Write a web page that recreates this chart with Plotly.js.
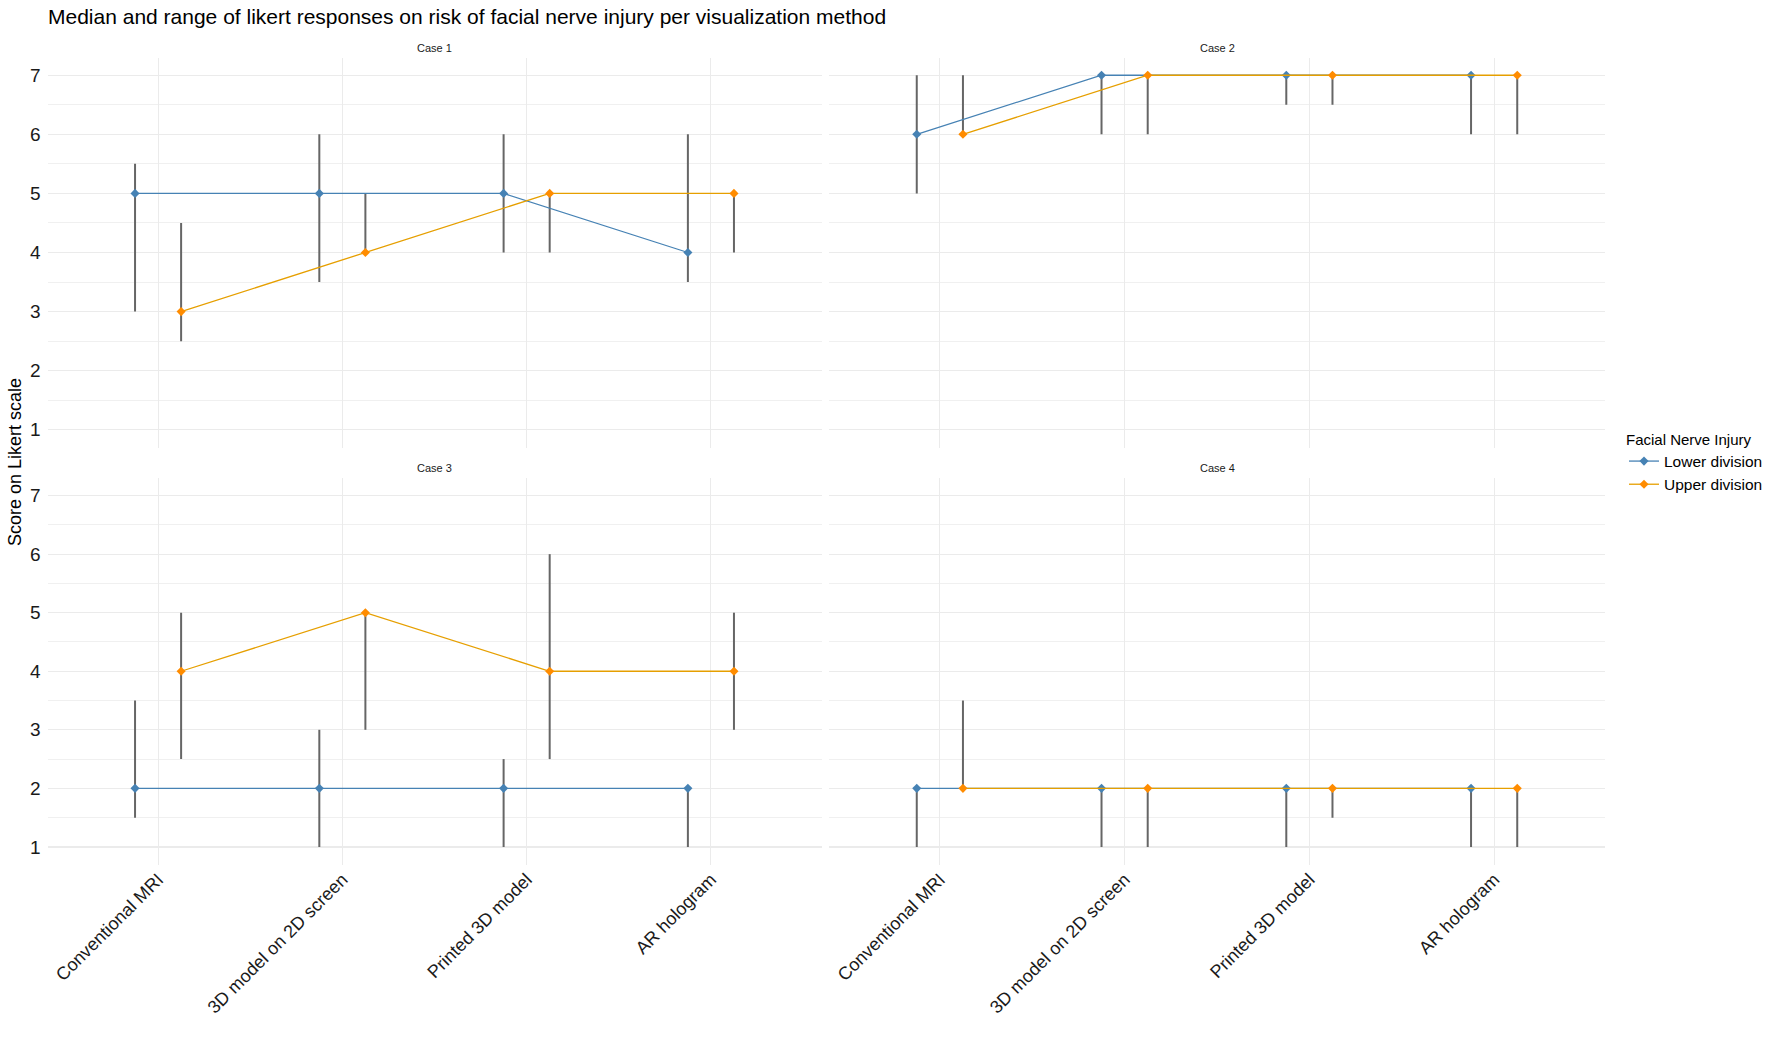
<!DOCTYPE html>
<html>
<head>
<meta charset="utf-8">
<script src="https://cdn.plot.ly/plotly-3.0.1.min.js"></script>
<style>
  html, body { margin: 0; padding: 0; background: #ffffff; }
  #chart { width: 1772px; height: 1057px; }
</style>
</head>
<body>
<div id="chart"></div>
<script>
// ---- data ----
const categories = ["Conventional MRI", "3D model on 2D screen", "Printed 3D model", "AR hologram"];
const caseNames = ["Case 1", "Case 2", "Case 3", "Case 4"];
const seriesNames = ["Lower division", "Upper division"];

// one row per case, one value per visualization method
const lowerMedian = [[5, 5, 5, 4], [6, 7, 7, 7], [2, 2, 2, 2], [2, 2, 2, 2]];
const lowerMin    = [[3, 3.5, 4, 3.5], [5, 6, 6.5, 6], [1.5, 1, 1, 1], [1, 1, 1, 1]];
const lowerMax    = [[5.5, 6, 6, 6], [7, 7, 7, 7], [3.5, 3, 2.5, 2], [2, 2, 2, 2]];

const upperMedian = [[3, 4, 5, 5], [6, 7, 7, 7], [4, 5, 4, 4], [2, 2, 2, 2]];
const upperMin    = [[2.5, 4, 4, 4], [6, 6, 6.5, 6], [2.5, 3, 2.5, 3], [2, 1, 1.5, 1]];
const upperMax    = [[4.5, 5, 5, 5], [7, 7, 7, 7], [5, 5, 6, 5], [3.5, 2, 2, 2]];

const yTicks = [1, 2, 3, 4, 5, 6, 7];
const yMinorTicks = [1.5, 2.5, 3.5, 4.5, 5.5, 6.5];

// ---- styling ----
const FONT = "Liberation Sans, Arial, sans-serif";
const lineColors = ["#4682B4", "#E69F00"];
const markerColors = ["#4682B4", "#FF8C00"];
const errColor = "#666666";
const dodge = 0.125;

const W = 1772, H = 1057;
const xDomains = [[47.5 / W, 821.5 / W], [829 / W, 1605 / W]];
const yDomains = [[1 - 447.5 / H, 1 - 57.5 / H], [1 - 864.5 / H, 1 - 478 / H]];

const medians = [lowerMedian, upperMedian];
const mins = [lowerMin, upperMin];
const maxs = [lowerMax, upperMax];

const traces = [];
const layout = {
  width: W, height: H,
  margin: { l: 0, r: 0, t: 0, b: 0 },
  paper_bgcolor: "#ffffff",
  plot_bgcolor: "#ffffff",
  font: { family: FONT, color: "#1a1a1a" },
  showlegend: true,
  title: {
    text: "Median and range of likert responses on risk of facial nerve injury per visualization method",
    font: { family: FONT, size: 21, color: "#000000" },
    xref: "container", yref: "container",
    x: 48 / W, xanchor: "left",
    y: 1 - 17 / H, yanchor: "middle"
  },
  legend: {
    x: 1624 / W, xanchor: "left",
    y: 1 - 425 / H, yanchor: "top",
    title: { text: "Facial Nerve Injury", font: { family: FONT, size: 15, color: "#000000" } },
    font: { family: FONT, size: 15.5, color: "#000000" },
    bgcolor: "rgba(0,0,0,0)",
    itemwidth: 30,
    tracegroupgap: 0
  },
  annotations: [
    {
      text: "Score on Likert scale",
      xref: "paper", yref: "paper",
      x: 15 / W, y: 1 - 462 / H,
      xanchor: "center", yanchor: "middle",
      textangle: -90, showarrow: false,
      font: { family: FONT, size: 18, color: "#000000" }
    }
  ]
};

for (let c = 0; c < 4; c++) {
  const row = Math.floor(c / 2), col = c % 2;
  const idx = c + 1;
  const xa = idx === 1 ? "x" : "x" + idx;
  const ya = idx === 1 ? "y" : "y" + idx;
  const xKey = idx === 1 ? "xaxis" : "xaxis" + idx;
  const yKey = idx === 1 ? "yaxis" : "yaxis" + idx;

  layout[xKey] = {
    domain: xDomains[col],
    anchor: ya,
    range: [0.4, 4.6],
    tickmode: "array",
    tickvals: categories.map((_, i) => i + 1),
    ticktext: categories,
    showticklabels: row === 1,
    tickangle: -45,
    tickfont: { family: FONT, size: 18, color: "#1a1a1a" },
    ticks: "",
    showgrid: true, gridcolor: "#EBEBEB", gridwidth: 1,
    zeroline: false, showline: false, fixedrange: true
  };
  layout[yKey] = {
    domain: yDomains[row],
    anchor: xa,
    range: [0.7, 7.3],
    tickmode: "array",
    tickvals: yTicks,
    ticktext: yTicks.map(String),
    showticklabels: col === 0,
    tickfont: { family: FONT, size: 19, color: "#1a1a1a" },
    ticks: "",
    ticklabelstandoff: 6,
    showgrid: true, gridcolor: "#EBEBEB", gridwidth: 1.2,
    minor: { tickmode: "array", tickvals: yMinorTicks, showgrid: true, gridcolor: "#F0F0F0", gridwidth: 1 },
    zeroline: false, showline: false, fixedrange: true
  };

  layout.annotations.push({
    text: caseNames[c],
    xref: "paper", yref: "paper",
    x: (xDomains[col][0] + xDomains[col][1]) / 2,
    y: row === 0 ? 1 - 48 / H : 1 - 468 / H,
    xanchor: "center", yanchor: "middle", showarrow: false,
    font: { family: FONT, size: 11, color: "#1a1a1a" }
  });

  // ranges (error bars) first
  for (let s = 0; s < 2; s++) {
    const off = s === 0 ? -dodge : dodge;
    const xs = categories.map((_, i) => i + 1 + off);
    const med = medians[s][c], lo = mins[s][c], hi = maxs[s][c];
    traces.push({
      type: "scatter", mode: "markers",
      x: xs, y: med, xaxis: xa, yaxis: ya,
      marker: { size: 1, opacity: 0 },
      error_y: {
        type: "data", symmetric: false,
        array: med.map((m, i) => hi[i] - m),
        arrayminus: med.map((m, i) => m - lo[i]),
        color: errColor, thickness: 2, width: 0
      },
      showlegend: false, hoverinfo: "skip"
    });
  }
  // lines + points
  for (let s = 0; s < 2; s++) {
    const off = s === 0 ? -dodge : dodge;
    const xs = categories.map((_, i) => i + 1 + off);
    traces.push({
      type: "scatter", mode: "lines+markers",
      name: seriesNames[s], legendgroup: seriesNames[s],
      x: xs, y: medians[s][c], xaxis: xa, yaxis: ya,
      line: { color: lineColors[s], width: 1.3 },
      marker: { symbol: "diamond", size: 7, color: markerColors[s] },
      showlegend: c === 0
    });
  }
}

Plotly.newPlot("chart", traces, layout, { displayModeBar: false, staticPlot: true });
</script>
</body>
</html>
